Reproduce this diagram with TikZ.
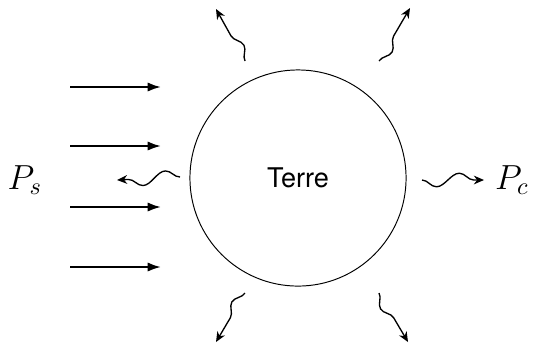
\documentclass[tikz,border=0pt]{standalone}
\usepackage{fontspec}
\newfontfamily\helv{TeX Gyre Heros}
\usetikzlibrary{arrows.meta,decorations.pathmorphing}
\begin{document}
\begin{tikzpicture}[x=0.01453cm,y=-0.01453cm,
  ray/.style={line width=0.85pt,-{Latex[length=5.5pt,width=3.8pt]}},
  wave/.style={line width=0.55pt,-{Stealth[length=4.2pt,width=3.6pt]},
    decorate,decoration={snake,amplitude=-2.8pt,segment length=19pt,post length=4pt}},
  lbl/.style={inner sep=0pt,font=\fontsize{14}{16}\selectfont}]
\useasboundingbox (0,0) rectangle (550,343);
\node[draw,circle,line width=0.4pt,minimum size=3.14cm,inner sep=0pt,font=\helv\fontsize{11.2}{13}\selectfont] (earth) at (298,178) {Terre};
\node[lbl] (ps) at (25,180) {$P_s$};
\node[lbl] (pc) at (512,180) {$P_c$};
% sun rays
\foreach \i/\y in {1/87,2/146,3/207,4/267}{
  \coordinate (r\i s) at (70,\y);
  \coordinate (r\i e) at (161,\y);
  \draw[ray] (r\i s) -- (r\i e);
}
% emitted waves
\coordinate (wls) at (180,177); \coordinate (wle) at (117,180);
\coordinate (wrs) at (422,180); \coordinate (wre) at (484,180);
\coordinate (tls) at (245,61);  \coordinate (tle) at (216,9);
\coordinate (trs) at (379,61);  \coordinate (tre) at (410,8);
\coordinate (bls) at (245,293); \coordinate (ble) at (216,342);
\coordinate (brs) at (379,293); \coordinate (bre) at (408,342);
\draw[wave] (wls) -- (wle);
\draw[wave] (wrs) -- (wre);
\draw[wave] (tls) -- (tle);
\draw[wave] (trs) -- (tre);
\draw[wave] (bls) -- (ble);
\draw[wave] (brs) -- (bre);
\end{tikzpicture}
\end{document}
